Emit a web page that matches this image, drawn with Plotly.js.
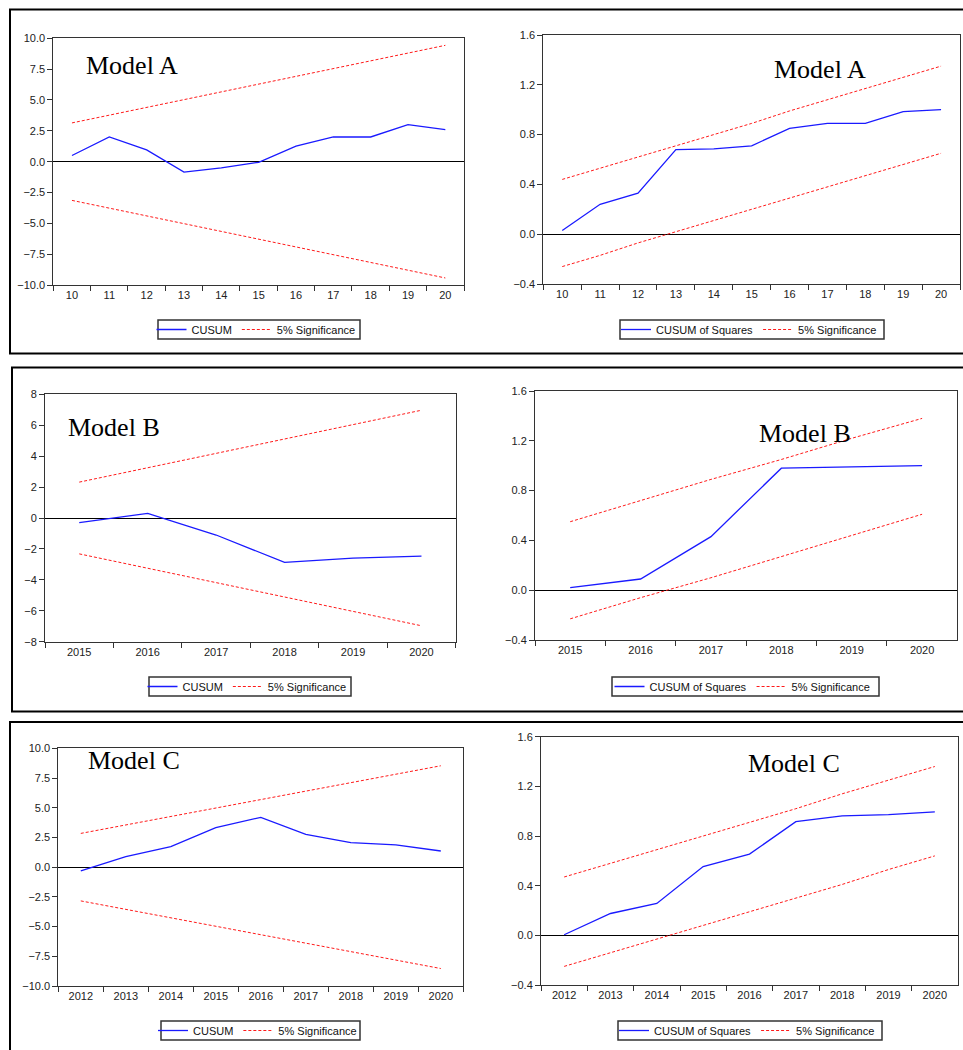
<!DOCTYPE html>
<html>
<head>
<meta charset="utf-8">
<script src="https://cdn.plot.ly/plotly-3.0.1.min.js"></script>
<style>html,body{margin:0;padding:0;background:#fff;}#chart{width:963px;height:1050px;}</style>
</head>
<body>
<div id="chart"></div>
<script>
// ---------- DATA ----------
const catA = ['10','11','12','13','14','15','16','17','18','19','20'];
const cusumA = [0.5, 2.0, 0.95, -0.85, -0.5, -0.05, 1.25, 2.0, 2.0, 3.0, 2.6];
const cusumAUpper = [3.14, 3.77, 4.40, 5.03, 5.66, 6.29, 6.92, 7.54, 8.17, 8.80, 9.43];
const cusumALower = [-3.14, -3.77, -4.40, -5.03, -5.66, -6.29, -6.92, -7.54, -8.17, -8.80, -9.43];
const cusumsqA = [0.03, 0.24, 0.33, 0.68, 0.685, 0.71, 0.85, 0.89, 0.89, 0.985, 1.0];
const sqAUpper = [0.44, 0.53, 0.62, 0.71, 0.80, 0.89, 0.99, 1.08, 1.17, 1.26, 1.35];
const sqALower = [-0.26, -0.17, -0.07, 0.02, 0.11, 0.20, 0.29, 0.38, 0.47, 0.56, 0.65];

const catB = ['2015','2016','2017','2018','2019','2020'];
const cusumB = [-0.3, 0.3, -1.1, -2.87, -2.6, -2.46];
const cusumBUpper = [2.32, 3.25, 4.18, 5.11, 6.04, 6.97];
const cusumBLower = [-2.32, -3.25, -4.18, -5.11, -6.04, -6.97];
const cusumsqB = [0.02, 0.09, 0.43, 0.98, 0.99, 1.0];
const sqBUpper = [0.55, 0.72, 0.89, 1.05, 1.22, 1.38];
const sqBLower = [-0.23, -0.06, 0.10, 0.27, 0.44, 0.61];

const catC = ['2012','2013','2014','2015','2016','2017','2018','2019','2020'];
const cusumC = [-0.32, 0.88, 1.72, 3.32, 4.19, 2.76, 2.06, 1.87, 1.36];
const cusumCUpper = [2.84, 3.55, 4.27, 4.98, 5.69, 6.40, 7.11, 7.82, 8.53];
const cusumCLower = [-2.84, -3.55, -4.27, -4.98, -5.69, -6.40, -7.11, -7.82, -8.53];
const cusumsqC = [0.005, 0.176, 0.257, 0.554, 0.654, 0.916, 0.962, 0.973, 0.995];
const sqCUpper = [0.47, 0.58, 0.69, 0.80, 0.91, 1.02, 1.14, 1.25, 1.36];
const sqCLower = [-0.25, -0.14, -0.03, 0.08, 0.19, 0.30, 0.41, 0.53, 0.64];

const modelLabels = ['Model A', 'Model B', 'Model C'];
const cusumName = 'CUSUM';
const cusumSqName = 'CUSUM of Squares';
const sigName = '5% Significance';

// ---------- LAYOUT HELPERS ----------
const W = 963, H = 1050;
const px = v => v / W;
const py = v => 1 - v / H;

const tickFont = {family: 'Liberation Sans, Arial, sans-serif', size: 11, color: '#222'};
const blue = '#1a1aff';
const red = '#ff1a1a';

function xAxis(x0, x1, anchor, cats) {
  return {
    domain: [px(x0), px(x1)], anchor: anchor, type: 'category',
    range: [-0.5, cats.length - 0.5],
    tickson: 'boundaries', ticks: 'outside', ticklen: 5, tickcolor: '#333', tickwidth: 1,
    showline: true, mirror: true, linecolor: '#333', linewidth: 1,
    showgrid: false, zeroline: false, tickfont: tickFont, fixedrange: true
  };
}
function yAxis(y0, y1, anchor, range, dtick, fmt) {
  return {
    domain: [py(y1), py(y0)], anchor: anchor, range: range, dtick: dtick, tick0: 0,
    tickformat: fmt, ticks: 'outside', ticklen: 5, tickcolor: '#333', tickwidth: 1,
    showline: true, mirror: true, linecolor: '#333', linewidth: 1,
    showgrid: false, zeroline: true, zerolinecolor: '#000', zerolinewidth: 1,
    tickfont: tickFont, fixedrange: true
  };
}

const traces = [];
function addPanel(idx, cats, main, upper, lower, mainName) {
  const xa = idx === 1 ? 'x' : 'x' + idx;
  const ya = idx === 1 ? 'y' : 'y' + idx;
  const lg = idx === 1 ? 'legend' : 'legend' + idx;
  traces.push({x: cats, y: main, xaxis: xa, yaxis: ya, type: 'scatter', mode: 'lines',
    name: mainName, legend: lg, line: {color: blue, width: 1.3}});
  traces.push({x: cats, y: upper, xaxis: xa, yaxis: ya, type: 'scatter', mode: 'lines',
    name: sigName, legend: lg, legendgroup: 'sig' + idx,
    line: {color: red, width: 1, dash: '3px,2px'}});
  traces.push({x: cats, y: lower, xaxis: xa, yaxis: ya, type: 'scatter', mode: 'lines',
    name: sigName, legend: lg, legendgroup: 'sig' + idx, showlegend: false,
    line: {color: red, width: 1, dash: '3px,2px'}});
}

addPanel(1, catA, cusumA, cusumAUpper, cusumALower, cusumName);
addPanel(2, catA, cusumsqA, sqAUpper, sqALower, cusumSqName);
addPanel(3, catB, cusumB, cusumBUpper, cusumBLower, cusumName);
addPanel(4, catB, cusumsqB, sqBUpper, sqBLower, cusumSqName);
addPanel(5, catC, cusumC, cusumCUpper, cusumCLower, cusumName);
addPanel(6, catC, cusumsqC, sqCUpper, sqCLower, cusumSqName);

// legend boxes (left, top, right, bottom in pixels)
const legendBoxes = [
  [158, 320, 360, 339],
  [620, 320, 884, 339],
  [149, 677, 351, 696],
  [612, 677, 879, 696],
  [161, 1021, 360, 1040],
  [618, 1021, 882, 1040]
];

function legendAt(b) {
  return {
    x: px((b[0] + b[2]) / 2 - 3), y: py((b[1] + b[3]) / 2), xanchor: 'center', yanchor: 'middle',
    xref: 'paper', yref: 'paper',
    orientation: 'h', bgcolor: 'rgba(0,0,0,0)', borderwidth: 0,
    font: {family: 'Liberation Sans, Arial, sans-serif', size: 11, color: '#111'},
    itemwidth: 30, itemclick: false, itemdoubleclick: false,
    tracegroupgap: 0
  };
}

function modelAnn(text, x, y) {
  return {text: text, x: px(x), y: py(y), xref: 'paper', yref: 'paper',
    xanchor: 'left', yanchor: 'middle', showarrow: false,
    font: {family: 'Liberation Serif, Times New Roman, serif', size: 26, color: '#000'}};
}

function frame(x0, y0, x1, y1, w, c) {
  return {type: 'rect', xref: 'paper', yref: 'paper', x0: px(x0), x1: px(x1), y0: py(y1), y1: py(y0),
    line: {color: c || '#000', width: w || 2}, fillcolor: 'rgba(0,0,0,0)', layer: 'below'};
}

const shapes = [
  frame(10, 9.5, 975, 353.5),
  frame(12, 367.5, 975, 711.5),
  frame(10, 722, 975, 1070)
];
legendBoxes.forEach(b => shapes.push(frame(b[0], b[1], b[2], b[3], 1.5, '#333')));

const layout = {
  width: W, height: H, margin: {l: 0, r: 0, t: 0, b: 0},
  paper_bgcolor: '#fff', plot_bgcolor: '#fff', showlegend: true,
  font: {family: 'Liberation Sans, Arial, sans-serif', size: 11, color: '#222'},
  xaxis:  xAxis(53.3, 464, 'y', catA),
  yaxis:  yAxis(38.3, 285, 'x', [-10, 10], 2.5, '.1f'),
  xaxis2: xAxis(543.3, 960, 'y2', catA),
  yaxis2: yAxis(35, 284, 'x2', [-0.4, 1.6], 0.4, '.1f'),
  xaxis3: xAxis(45, 455.7, 'y3', catB),
  yaxis3: yAxis(394.3, 641.7, 'x3', [-8, 8], 2, 'd'),
  xaxis4: xAxis(535, 957.3, 'y4', catB),
  yaxis4: yAxis(391, 640, 'x4', [-0.4, 1.6], 0.4, '.1f'),
  xaxis5: xAxis(58.3, 463.3, 'y5', catC),
  yaxis5: yAxis(748.3, 986, 'x5', [-10, 10], 2.5, '.1f'),
  xaxis6: xAxis(541, 958, 'y6', catC),
  yaxis6: yAxis(736.7, 985, 'x6', [-0.4, 1.6], 0.4, '.1f'),
  legend:  legendAt(legendBoxes[0]),
  legend2: legendAt(legendBoxes[1]),
  legend3: legendAt(legendBoxes[2]),
  legend4: legendAt(legendBoxes[3]),
  legend5: legendAt(legendBoxes[4]),
  legend6: legendAt(legendBoxes[5]),
  annotations: [
    modelAnn(modelLabels[0], 84, 65),
    modelAnn(modelLabels[0], 772, 70),
    modelAnn(modelLabels[1], 66, 428),
    modelAnn(modelLabels[1], 757, 433),
    modelAnn(modelLabels[2], 86, 760),
    modelAnn(modelLabels[2], 746, 763)
  ],
  shapes: shapes
};

Plotly.newPlot('chart', traces, layout, {staticPlot: true, displayModeBar: false});
</script>
</body>
</html>
